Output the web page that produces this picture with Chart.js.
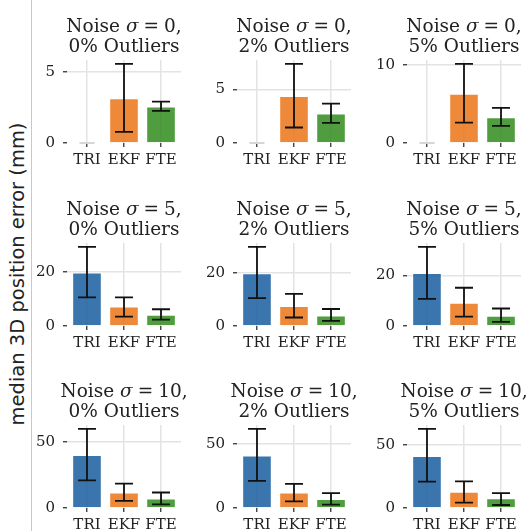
<!DOCTYPE html>
<html><head><meta charset="utf-8">
<script src="https://cdn.jsdelivr.net/npm/chart.js@4.4.0/dist/chart.umd.min.js"></script>
<style>
html,body{margin:0;padding:0;background:#fff;width:528px;height:531px;overflow:hidden;position:relative}
canvas{position:absolute}
#vline{position:absolute;left:31px;top:0;width:1px;height:531px;background:#c8c8c8;z-index:5}
#ylab{position:absolute;left:18px;top:274px;transform:translate(-50%,-50%) rotate(-90deg);font-family:'DejaVu Sans';font-size:19.5px;color:#222;white-space:nowrap;line-height:1}
</style></head><body>
<div id="ylab">median 3D position error (mm)</div>
<div id="vline"></div>
<script>
// ---- data ----
const categories = ['TRI', 'EKF', 'FTE'];
const noiseLevels = [0, 5, 10];
const outlierLevels = [0, 2, 5];
// one row per panel (row-major: noise 0/5/10 x outliers 0/2/5)
const median = [
  [0, 3.16, 2.57], [0, 4.4, 2.77], [0, 6.32, 3.3],
  [19.8, 7.2, 4.2], [19.9, 7.5, 4.0], [20.9, 9.2, 4.0],
  [40.0, 11.7, 7.1], [40.9, 12.0, 7.0], [41.4, 12.9, 7.8]
];
const lower = [
  [0, 0.78, 2.26], [0, 1.45, 1.89], [0, 2.6, 2.2],
  [10.6, 3.5, 2.4], [10.5, 3.2, 1.9], [10.7, 3.7, 1.6],
  [20.9, 5.4, 2.8], [21.1, 5.2, 2.6], [21.0, 4.3, 2.4]
];
const upper = [
  [0, 5.57, 2.92], [0, 7.4, 3.68], [0, 10.13, 4.5],
  [29.3, 10.6, 6.2], [29.8, 12.1, 6.4], [31.2, 15.1, 6.9],
  [59.7, 18.4, 11.7], [61.5, 18.8, 11.5], [62.9, 21.2, 11.9]
];
const tickStep = [5, 5, 10, 20, 20, 20, 50, 50, 50];

// ---- styling / layout ----
const barColors = ['rgba(23,93,160,0.85)', 'rgba(236,116,24,0.85)', 'rgba(48,140,28,0.85)'];
const plotLefts = [67, 237, 407];
const plotTops = [60, 243, 425];
const plotW = 114, plotH = 83, yAxisW = 36, topPad = 60, xAxisH = 30;

const errorBars = {
  id: 'errorBars',
  afterDatasetsDraw(chart) {
    const ds = chart.data.datasets[0];
    const xs = chart.scales.x, ys = chart.scales.y, ctx = chart.ctx;
    ctx.save();
    ds.data.forEach((p, i) => {
      const lo = ds.errLow[i], hi = ds.errHigh[i];
      const px = xs.getPixelForValue(p.x);
      if (hi === lo) {
        const py = ys.getPixelForValue(lo);
        ctx.strokeStyle = '#d6d6d6'; ctx.lineWidth = 2;
        ctx.beginPath(); ctx.moveTo(px - 7.5, py); ctx.lineTo(px + 7.5, py); ctx.stroke();
        return;
      }
      const pl = ys.getPixelForValue(lo), ph = ys.getPixelForValue(hi);
      const cw = 9;
      ctx.strokeStyle = '#111'; ctx.lineWidth = 1.8;
      ctx.beginPath();
      ctx.moveTo(px, pl); ctx.lineTo(px, ph);
      ctx.moveTo(px - cw, pl); ctx.lineTo(px + cw, pl);
      ctx.moveTo(px - cw, ph); ctx.lineTo(px + cw, ph);
      ctx.stroke();
    });
    ctx.restore();
  }
};

const mathTitle = {
  id: 'mathTitle',
  afterDraw(chart, args, opts) {
    const ctx = chart.ctx, a = chart.chartArea;
    const cx = (a.left + a.right) / 2;
    const fs = 18.5;
    const normal = fs + 'px "DejaVu Serif"';
    const ital = 'italic ' + normal;
    const segs = [['Noise ', normal], ['\u03c3', ital], [null, 0.27], ['=', normal], [null, 0.27], [opts.noise + ',', normal]];
    ctx.save();
    ctx.fillStyle = '#222';
    ctx.textBaseline = 'alphabetic';
    ctx.textAlign = 'left';
    let total = 0;
    segs.forEach(s => { if (s[0] === null) total += s[1] * fs; else { ctx.font = s[1]; total += ctx.measureText(s[0]).width; } });
    let x = cx - total / 2;
    const y1 = a.top - 28;
    segs.forEach(s => {
      if (s[0] === null) { x += s[1] * fs; return; }
      ctx.font = s[1]; ctx.fillText(s[0], x, y1); x += ctx.measureText(s[0]).width;
    });
    ctx.font = normal; ctx.textAlign = 'center';
    ctx.fillText(opts.outlier + '% Outliers', cx, a.top - 8.5);
    ctx.restore();
  }
};

for (let r = 0; r < 3; r++) {
  for (let c = 0; c < 3; c++) {
    const k = r * 3 + c;
    const rp = c === 2 ? 528 - (plotLefts[c] + plotW) : 14;
    const cv = document.createElement('canvas');
    const W = yAxisW + plotW + rp, H = topPad + plotH + xAxisH;
    cv.width = W; cv.height = H;
    cv.style.width = W + 'px'; cv.style.height = H + 'px';
    cv.style.left = (plotLefts[c] - yAxisW) + 'px';
    cv.style.top = (plotTops[r] - topPad) + 'px';
    document.body.appendChild(cv);
    const ymax = 1.05 * Math.max(...upper[k]);
    const step = tickStep[k];
    new Chart(cv, {
      type: 'bar',
      data: {
        datasets: [{
          data: categories.map((cat, i) => ({ x: i, y: median[k][i] })),
          backgroundColor: barColors,
          borderColor: 'rgba(255,255,255,0.55)',
          borderWidth: 1,
          barPercentage: 0.8,
          categoryPercentage: 1,
          errLow: lower[k],
          errHigh: upper[k]
        }]
      },
      options: {
        responsive: false, animation: false, devicePixelRatio: 1,
        layout: { padding: { top: topPad, right: rp, left: 0, bottom: 0 } },
        plugins: {
          legend: { display: false }, tooltip: { enabled: false },
          title: { display: false, text: ['Noise \u03c3 = ' + noiseLevels[r] + ',', outlierLevels[c] + '% Outliers'] },
          mathTitle: { noise: noiseLevels[r], outlier: outlierLevels[c] }
        },
        scales: {
          x: {
            type: 'linear', min: -0.54, max: 2.54, offset: false,
            afterBuildTicks: s => { s.ticks = categories.map((cat, i) => ({ value: i })); },
            afterFit: s => { s.height = xAxisH; },
            ticks: { callback: v => categories[v], font: { family: 'DejaVu Serif', size: 15 }, color: '#222', padding: 4, autoSkip: false, maxRotation: 0 },
            grid: { offset: false, color: '#e3e3e3', lineWidth: 1.5, tickColor: '#333', tickLength: 4, tickWidth: 1.3 },
            border: { display: false }
          },
          y: {
            min: 0, max: ymax,
            afterBuildTicks: s => { const t = []; for (let v = 0; v <= ymax + 1e-9; v += step) t.push({ value: v }); s.ticks = t; },
            afterFit: s => { s.width = yAxisW; },
            ticks: { font: { family: 'DejaVu Serif', size: 15 }, color: '#222', padding: 8 },
            grid: { color: ctx => (ctx.tick && ctx.tick.value === 0) ? 'rgba(0,0,0,0)' : '#e3e3e3', lineWidth: 1.5, tickColor: '#333', tickLength: 4, tickWidth: 1.3 },
            border: { display: false }
          }
        }
      },
      plugins: [errorBars, mathTitle]
    });
  }
}
</script>
</body></html>
